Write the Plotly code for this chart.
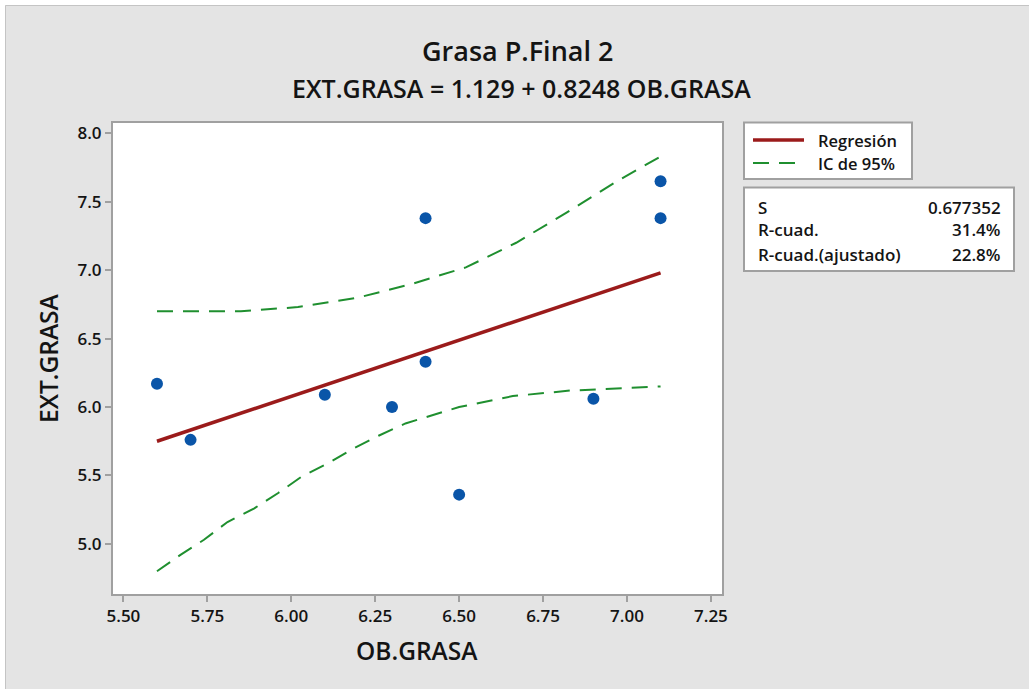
import plotly.graph_objects as go

# ---------------- data ----------------
ob_grasa = [5.6, 5.7, 6.1, 6.3, 6.4, 6.4, 6.5, 6.9, 7.1, 7.1]
ext_grasa = [6.17, 5.76, 6.09, 6.00, 7.38, 6.33, 5.36, 6.06, 7.65, 7.38]

reg_x = [5.6, 6.1, 6.6, 7.1]
reg_y = [5.75, 6.16, 6.57, 6.98]

ci_up_x = [5.6, 5.85, 6.02, 6.2, 6.36, 6.52, 6.67, 6.82, 6.97, 7.1]
ci_up_y = [6.70, 6.70, 6.73, 6.80, 6.90, 7.02, 7.20, 7.42, 7.65, 7.83]

ci_lo_x = [5.6, 5.67, 5.74, 5.81, 5.89, 5.96, 6.03, 6.11, 6.18, 6.26, 6.34, 6.5, 6.66, 6.83, 7.1]
ci_lo_y = [4.80, 4.92, 5.03, 5.16, 5.26, 5.37, 5.49, 5.59, 5.69, 5.79, 5.88, 6.00, 6.08, 6.12, 6.15]

x_ticks = [5.50, 5.75, 6.00, 6.25, 6.50, 6.75, 7.00, 7.25]
y_ticks = [5.0, 5.5, 6.0, 6.5, 7.0, 7.5, 8.0]

stat_names = ["S", "R-cuad.", "R-cuad.(ajustado)"]
stat_values = ["0.677352", "31.4%", "22.8%"]
legend_names = ["Regresión", "IC de 95%"]

title_text = "Grasa P.Final 2"
eq_text = "EXT.GRASA = 1.129 + 0.8248 OB.GRASA"
x_title = "OB.GRASA"
y_title = "EXT.GRASA"

# ---------------- styling ----------------
FONT = "Open Sans"
TXT = "#141414"
RED = "#9b1b1b"
GREEN = "#1f8f2f"
BLUE = "#0a55a8"
GRAY = "#a0a0a0"
BG = "#e4e4e4"
WGT = 600

W, H = 1029, 689
L, R, T, B = 113, 722, 123, 594  # plot area pixels


def px(x):
    return (x - L) / (R - L)


def py(y):
    return (B - y) / (B - T)


def f(size):
    return dict(family=FONT, size=size, color=TXT, weight=WGT)


fig = go.Figure()

fig.add_trace(go.Scatter(x=ci_up_x, y=ci_up_y, mode="lines", line=dict(color=GREEN, width=2, dash="16px,10px"),
                         showlegend=False, hoverinfo="skip"))
fig.add_trace(go.Scatter(x=ci_lo_x, y=ci_lo_y, mode="lines", line=dict(color=GREEN, width=2, dash="16px,10px"),
                         showlegend=False, hoverinfo="skip"))
fig.add_trace(go.Scatter(x=reg_x, y=reg_y, mode="lines", line=dict(color=RED, width=3.5),
                         showlegend=False))
fig.add_trace(go.Scatter(x=ob_grasa, y=ext_grasa, mode="markers",
                         marker=dict(color=BLUE, size=12, line=dict(width=0)), showlegend=False))

axis_common = dict(showgrid=False, zeroline=False, showline=True, mirror=True, linecolor=GRAY, linewidth=2,
                   ticks="outside", ticklen=6, tickwidth=1.5, tickcolor=GRAY,
                   tickfont=f(17))

fig.update_xaxes(range=[5.469, 7.283], tickvals=x_ticks, ticktext=[f"{v:.2f}" for v in x_ticks], **axis_common)
fig.update_yaxes(range=[4.634, 8.075], tickvals=y_ticks, ticktext=[f"{v:.1f}" for v in y_ticks], **axis_common)

shapes = []
annotations = []

# outer frame (white strip at top/left and gray border)
shapes.append(dict(type="rect", xref="paper", yref="paper", x0=px(0), x1=px(W), y0=py(0), y1=py(5),
                   fillcolor="white", line=dict(width=0), layer="below"))
shapes.append(dict(type="rect", xref="paper", yref="paper", x0=px(0), x1=px(5), y0=py(H), y1=py(0),
                   fillcolor="white", line=dict(width=0), layer="below"))
shapes.append(dict(type="line", xref="paper", yref="paper", x0=px(5.5), x1=px(W), y0=py(5.5), y1=py(5.5),
                   line=dict(color="#c4c4c4", width=1)))
shapes.append(dict(type="line", xref="paper", yref="paper", x0=px(5.5), x1=px(5.5), y0=py(5.5), y1=py(H),
                   line=dict(color="#c4c4c4", width=1)))

# legend box
shapes.append(dict(type="rect", xref="paper", yref="paper", x0=px(744), x1=px(912), y0=py(179), y1=py(122.5),
                   fillcolor="white", line=dict(color=GRAY, width=2)))
shapes.append(dict(type="line", xref="paper", yref="paper", x0=px(753), x1=px(804), y0=py(140), y1=py(140),
                   line=dict(color=RED, width=3.5)))
shapes.append(dict(type="line", xref="paper", yref="paper", x0=px(753), x1=px(804), y0=py(163), y1=py(163),
                   line=dict(color=GREEN, width=2, dash="16px,10px")))
for name, yy in zip(legend_names, [140, 163]):
    annotations.append(dict(text=name, xref="paper", yref="paper", x=px(816), y=py(yy), xanchor="left",
                            yanchor="middle", showarrow=False, font=f(16.5)))

# stats box
shapes.append(dict(type="rect", xref="paper", yref="paper", x0=px(744), x1=px(1014), y0=py(271), y1=py(187.5),
                   fillcolor="white", line=dict(color=GRAY, width=2)))
for name, val, yy in zip(stat_names, stat_values, [207, 230, 254]):
    annotations.append(dict(text=name, xref="paper", yref="paper", x=px(756), y=py(yy), xanchor="left",
                            yanchor="middle", showarrow=False, font=f(17)))
    annotations.append(dict(text=val, xref="paper", yref="paper", x=px(1003), y=py(yy), xanchor="right",
                            yanchor="middle", showarrow=False, font=f(17)))

# titles
annotations.append(dict(text=title_text, xref="paper", yref="paper", x=px(517), y=py(50), xanchor="center",
                        yanchor="middle", showarrow=False, font=f(27)))
annotations.append(dict(text=eq_text, xref="paper", yref="paper", x=px(521), y=py(88), xanchor="center",
                        yanchor="middle", showarrow=False, font=f(25)))
annotations.append(dict(text=x_title, xref="paper", yref="paper", x=px(417), y=py(650), xanchor="center",
                        yanchor="middle", showarrow=False, font=f(24.5)))
annotations.append(dict(text=y_title, xref="paper", yref="paper", x=px(48), y=py(358), xanchor="center",
                        yanchor="middle", textangle=-90, showarrow=False, font=f(24.5)))

fig.update_layout(width=W, height=H, margin=dict(l=L, r=W - R, t=T, b=H - B, pad=0),
                  paper_bgcolor=BG, plot_bgcolor="white", shapes=shapes, annotations=annotations,
                  showlegend=False, font=dict(family=FONT, color=TXT))

fig.write_html("out.html", config={"displayModeBar": False},
               post_script="document.body.style.margin='0';document.body.style.overflow='hidden';")
